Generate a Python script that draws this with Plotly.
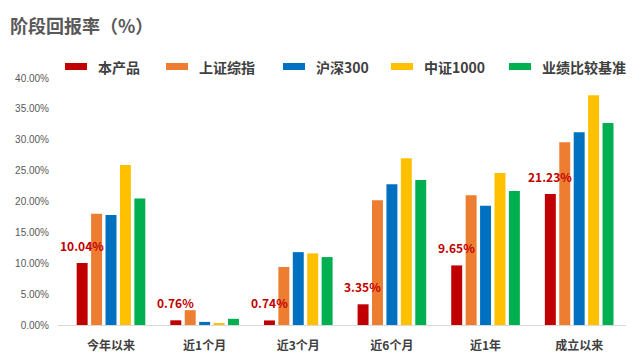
import plotly.graph_objects as go

categories = ["今年以来", "近1个月", "近3个月", "近6个月", "近1年", "成立以来"]
series_names = ["本产品", "上证综指", "沪深300", "中证1000", "业绩比较基准"]
product = [10.04, 0.76, 0.74, 3.35, 9.65, 21.23]
sse = [18.0, 2.4, 9.4, 20.2, 21.0, 29.6]
csi300 = [17.8, 0.5, 11.8, 22.8, 19.3, 31.2]
csi1000 = [25.9, 0.2, 11.6, 27.0, 24.6, 37.2]
benchmark = [20.5, 1.0, 11.0, 23.5, 21.7, 32.7]
product_labels = ["10.04%", "0.76%", "0.74%", "3.35%", "9.65%", "21.23%"]
y_ticks = [0, 5, 10, 15, 20, 25, 30, 35, 40]

colors = ["#C00000", "#ED7D31", "#0070C0", "#FFC000", "#00B050"]
all_series = [product, sse, csi300, csi1000, benchmark]

FONT = "Noto Sans CJK SC, Microsoft YaHei, sans-serif"

fig = go.Figure()
for name, vals, col in zip(series_names, all_series, colors):
    fig.add_trace(go.Bar(name=name, x=categories, y=vals, marker_color=col,
                         marker_line_width=0, showlegend=False))

# data labels for 本产品
for cat, v, lab in zip(categories, product, product_labels):
    fig.add_annotation(x=cat, y=v, xref="x", yref="y", text="<b>" + lab + "</b>",
                       showarrow=False, xanchor="center", yanchor="bottom",
                       xshift=-29, yshift=7,
                       font=dict(family=FONT, size=12, color="#C00000"))

# custom legend
L, W = 58, 568
legend_rect_x = [65, 166, 283, 391, 509]
for name, col, px in zip(series_names, colors, legend_rect_x):
    fig.add_shape(type="rect", xref="paper", yref="paper",
                  x0=(px - L) / W, x1=(px + 22 - L) / W,
                  y0=1 + (78 - 70) / 247, y1=1 + (78 - 63) / 247,
                  fillcolor=col, line_width=0)
    fig.add_annotation(xref="paper", yref="paper", x=(px + 31 - L) / W,
                       y=1 + (78 - 67) / 247, text="<b>" + name + "</b>",
                       showarrow=False, xanchor="left", yanchor="middle",
                       font=dict(family=FONT, size=14, color="#404040"))

fig.update_layout(
    width=640, height=361,
    margin=dict(l=58, r=14, t=78, b=36),
    paper_bgcolor="white", plot_bgcolor="white",
    barmode="group", bargap=0.23, bargroupgap=0.24,
    title=dict(text="<b>阶段回报率（%）</b>", x=10 / 640, xanchor="left",
               xref="container", yref="container", y=1 - 27 / 361, yanchor="middle",
               font=dict(family=FONT, size=18, color="#595959")),
    font=dict(family=FONT),
    xaxis=dict(showgrid=False, showline=True, linecolor="#D9D9D9", linewidth=1,
               ticks="", tickfont=dict(family=FONT, size=12, color="#404040"),
               ticklabelstandoff=10, automargin=False),
    yaxis=dict(range=[0, 40], tickvals=y_ticks, ticktext=[f"{t:.2f}%" for t in y_ticks],
               showgrid=False, zeroline=False, showline=False, ticks="",
               tickfont=dict(family="Liberation Sans, Arial, sans-serif", size=10, color="#595959"),
               ticklabelstandoff=8, automargin=False),
)
fig.update_xaxes(tickvals=categories, ticktext=["<b>" + c + "</b>" for c in categories])

fig.write_html("out.html", config={"displayModeBar": False},
               post_script="document.body.style.margin='0';document.body.style.padding='0';")
